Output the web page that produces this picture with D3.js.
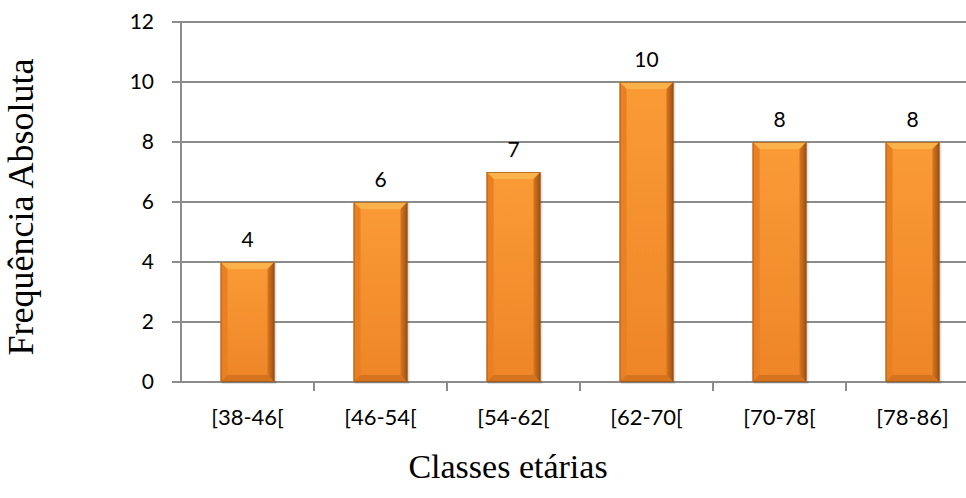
<!DOCTYPE html>
<html>
<head>
<meta charset="utf-8">
<script src="https://cdn.jsdelivr.net/npm/d3@7"></script>
<style>
  html, body { margin: 0; padding: 0; background: #ffffff; }
  svg { display: block; }
</style>
</head>
<body>
<svg id="chart" width="966" height="498"></svg>
<script>
const categories = ["[38-46[", "[46-54[", "[54-62[", "[62-70[", "[70-78[", "[78-86]"];
const values = [4, 6, 7, 10, 8, 8];
const yTicks = [0, 2, 4, 6, 8, 10, 12];
const yTitle = "Frequência Absoluta";
const xTitle = "Classes etárias";

const svg = d3.select("#chart");
const W = 966, H = 498;
const pLeft = 181, pRight = 979, pTop = 22, pBottom = 382;

const x = d3.scaleBand().domain(categories).range([pLeft, pRight]).paddingInner(0.595).paddingOuter(0.2975);
const y = d3.scaleLinear().domain([0, 12]).range([pBottom, pTop]);

const defs = svg.append("defs");
const g1 = defs.append("linearGradient").attr("id", "body").attr("x1", 0).attr("y1", 0).attr("x2", 0).attr("y2", 1);
g1.append("stop").attr("offset", "0%").attr("stop-color", "#FA9B36");
g1.append("stop").attr("offset", "100%").attr("stop-color", "#EE8527");
const g2 = defs.append("linearGradient").attr("id", "sideR").attr("x1", 0).attr("y1", 0).attr("x2", 1).attr("y2", 0);
g2.append("stop").attr("offset", "0%").attr("stop-color", "#D9761F");
g2.append("stop").attr("offset", "100%").attr("stop-color", "#9A5213");

// gridlines
svg.append("g").selectAll("line").data(yTicks).join("line")
  .attr("x1", pLeft - 9).attr("x2", W)
  .attr("y1", d => y(d)).attr("y2", d => y(d))
  .attr("stroke", "#8C8C8C").attr("stroke-width", 2);

// y axis line
svg.append("line").attr("x1", pLeft).attr("x2", pLeft).attr("y1", y(12)).attr("y2", y(0))
  .attr("stroke", "#8C8C8C").attr("stroke-width", 2);

// category ticks
const bounds = categories.map((c, i) => pLeft + i * (pRight - pLeft) / categories.length);
svg.append("g").selectAll("line").data(bounds.slice(1)).join("line")
  .attr("x1", d => d).attr("x2", d => d).attr("y1", y(0)).attr("y2", y(0) + 9)
  .attr("stroke", "#8C8C8C").attr("stroke-width", 2);

const sans = "Lato, 'Open Sans', sans-serif";

// y tick labels
svg.append("g").selectAll("text").data(yTicks).join("text")
  .attr("x", 154).attr("y", d => y(d)).attr("dy", "0.35em")
  .attr("text-anchor", "end").attr("font-family", sans)
  .attr("font-size", 21).attr("fill", "#000").text(d => d);

// bars
const bars = svg.append("g").selectAll("g").data(values.map((v, i) => ({ c: categories[i], v }))).join("g");
const bv = 7;
bars.each(function(d) {
  const gg = d3.select(this);
  const x0 = x(d.c), w = x.bandwidth(), y0 = y(d.v), y1 = y(0);
  gg.append("rect").attr("x", x0 + 1).attr("y", y0 + 1).attr("width", w + 1).attr("height", y1 - y0 + 1)
    .attr("fill", "#000").attr("opacity", 0.12);
  gg.append("rect").attr("x", x0).attr("y", y0).attr("width", w).attr("height", y1 - y0).attr("fill", "url(#body)");
  gg.append("polygon").attr("points", [[x0, y0], [x0 + w, y0], [x0 + w - bv, y0 + bv], [x0 + bv, y0 + bv]].join(" "))
    .attr("fill", "#FCB24B");
  gg.append("polygon").attr("points", [[x0, y0], [x0 + bv, y0 + bv], [x0 + bv, y1 - bv], [x0, y1]].join(" "))
    .attr("fill", "#E98023");
  gg.append("polygon").attr("points", [[x0 + w, y0], [x0 + w - bv, y0 + bv], [x0 + w - bv, y1 - bv], [x0 + w, y1]].join(" "))
    .attr("fill", "url(#sideR)");
  gg.append("polygon").attr("points", [[x0, y1], [x0 + bv, y1 - bv], [x0 + w - bv, y1 - bv], [x0 + w, y1]].join(" "))
    .attr("fill", "#D5731F");
  gg.append("rect").attr("x", x0 + 0.5).attr("y", y0 + 0.5).attr("width", w - 1).attr("height", y1 - y0 - 1)
    .attr("fill", "none").attr("stroke", "#8A4A12").attr("stroke-width", 1).attr("stroke-opacity", 0.6);
  gg.append("text").attr("x", x0 + w / 2).attr("y", y0 - 15)
    .attr("text-anchor", "middle").attr("font-family", sans)
    .attr("font-size", 21).attr("fill", "#000").text(d.v);
});

// x tick labels
svg.append("g").selectAll("text").data(categories).join("text")
  .attr("x", d => x(d) + x.bandwidth() / 2).attr("y", 425)
  .attr("text-anchor", "middle").attr("font-family", sans)
  .attr("font-size", 22).attr("fill", "#000").text(d => d);

// axis titles
svg.append("text").attr("transform", "translate(33,207) rotate(-90)")
  .attr("text-anchor", "middle").attr("font-family", "'Liberation Serif', 'Times New Roman', serif")
  .attr("font-size", 36).attr("fill", "#000").text(yTitle);
svg.append("text").attr("x", 508).attr("y", 478)
  .attr("text-anchor", "middle").attr("font-family", "'Liberation Serif', 'Times New Roman', serif")
  .attr("font-size", 34).attr("fill", "#000").text(xTitle);
</script>
</body>
</html>
